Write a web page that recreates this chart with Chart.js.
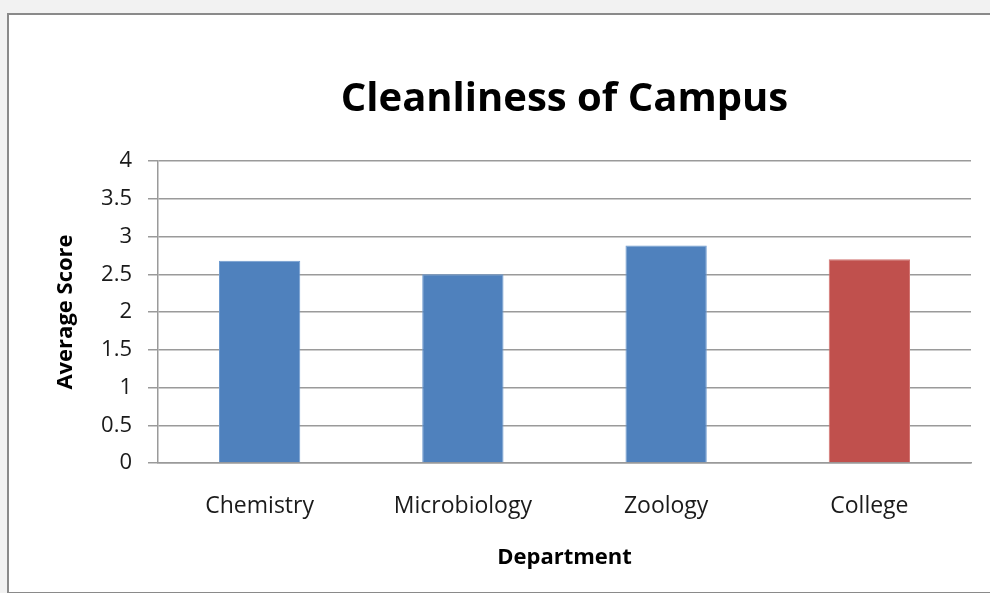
<!DOCTYPE html>
<html lang="en">
<head>
    <meta charset="UTF-8">
    <title>Cleanliness of Campus</title>
    <script src="https://cdn.jsdelivr.net/npm/chart.js"></script>
    <style>
        html, body { margin: 0; padding: 0; background: #f2f2f2; }
        #frame {
            position: absolute; left: 7px; top: 13px; width: 1000px; height: 577px;
            background: #fff; border: 2px solid #8a8a8a; border-right: none;
        }
        #wrap { position: absolute; left: 0; top: 0; width: 990px; height: 593px; }
    </style>
</head>
<body>
    <div id="frame"></div>
    <div id="wrap"><canvas id="barChart"></canvas></div>
    <script>
        const departments = ['Chemistry', 'Microbiology', 'Zoology', 'College'];
        const averageScores = [2.68, 2.5, 2.88, 2.7];
        const barColors = ['#4f81bd', '#4f81bd', '#4f81bd', '#c0504d'];
        const barEdges = ['#6f9bd0', '#6f9bd0', '#6f9bd0', '#d27471'];
        const chartTitle = 'Cleanliness of Campus';

        const fontFamily = "'Open Sans', 'Noto Sans', sans-serif";
        const gridColor = '#9a9a9a';

        // title centred over the plot area, like the original
        const plotTitle = {
            id: 'plotTitle',
            afterDraw(chart) {
                const { ctx, chartArea } = chart;
                ctx.save();
                ctx.font = 'bold 40px ' + fontFamily;
                ctx.fillStyle = '#000';
                ctx.textAlign = 'center';
                ctx.textBaseline = 'middle';
                ctx.fillText(chartTitle, (chartArea.left + chartArea.right) / 2, 100);
                ctx.restore();
            },
        };

        const ctx = document.getElementById('barChart').getContext('2d');
        new Chart(ctx, {
            type: 'bar',
            data: {
                labels: departments,
                datasets: [{
                    label: 'Average Score',
                    data: averageScores,
                    backgroundColor: barColors,
                    borderColor: barEdges,
                    borderWidth: 1,
                    barPercentage: 0.4,
                    categoryPercentage: 1.0,
                }],
            },
            plugins: [plotTitle],
            options: {
                responsive: true,
                maintainAspectRatio: false,
                animation: false,
                layout: { padding: { top: 161, right: 19, bottom: 0, left: 0 } },
                plugins: {
                    legend: { display: false },
                    tooltip: { enabled: false },
                    title: { display: false },
                },
                scales: {
                    x: {
                        afterFit: (scale) => { scale.height = 130; },
                        grid: { display: false, drawTicks: false },
                        border: { display: true, color: gridColor, width: 1.5 },
                        ticks: {
                            color: '#1a1a1a',
                            padding: 30,
                            font: { family: fontFamily, size: 23 },
                        },
                        title: {
                            display: true,
                            text: 'Department',
                            color: '#000',
                            font: { family: fontFamily, size: 22, weight: 'bold', lineHeight: 1.2 },
                            padding: { top: 0, bottom: 22 },
                        },
                    },
                    y: {
                        min: 0,
                        max: 4,
                        afterFit: (scale) => { scale.width = 158; },
                        grid: { color: gridColor, lineWidth: 1.5, tickLength: 10, tickColor: gridColor },
                        border: { display: true, color: gridColor, width: 1.5 },
                        ticks: {
                            stepSize: 0.5,
                            color: '#1a1a1a',
                            padding: 16,
                            font: { family: fontFamily, size: 22 },
                            callback: (value) => String(value),
                        },
                        title: {
                            display: true,
                            text: 'Average Score',
                            color: '#000',
                            font: { family: fontFamily, size: 22, weight: 'bold', lineHeight: 1.2 },
                            padding: { top: 53, bottom: 0 },
                        },
                    },
                },
            },
        });
    </script>
</body>
</html>
